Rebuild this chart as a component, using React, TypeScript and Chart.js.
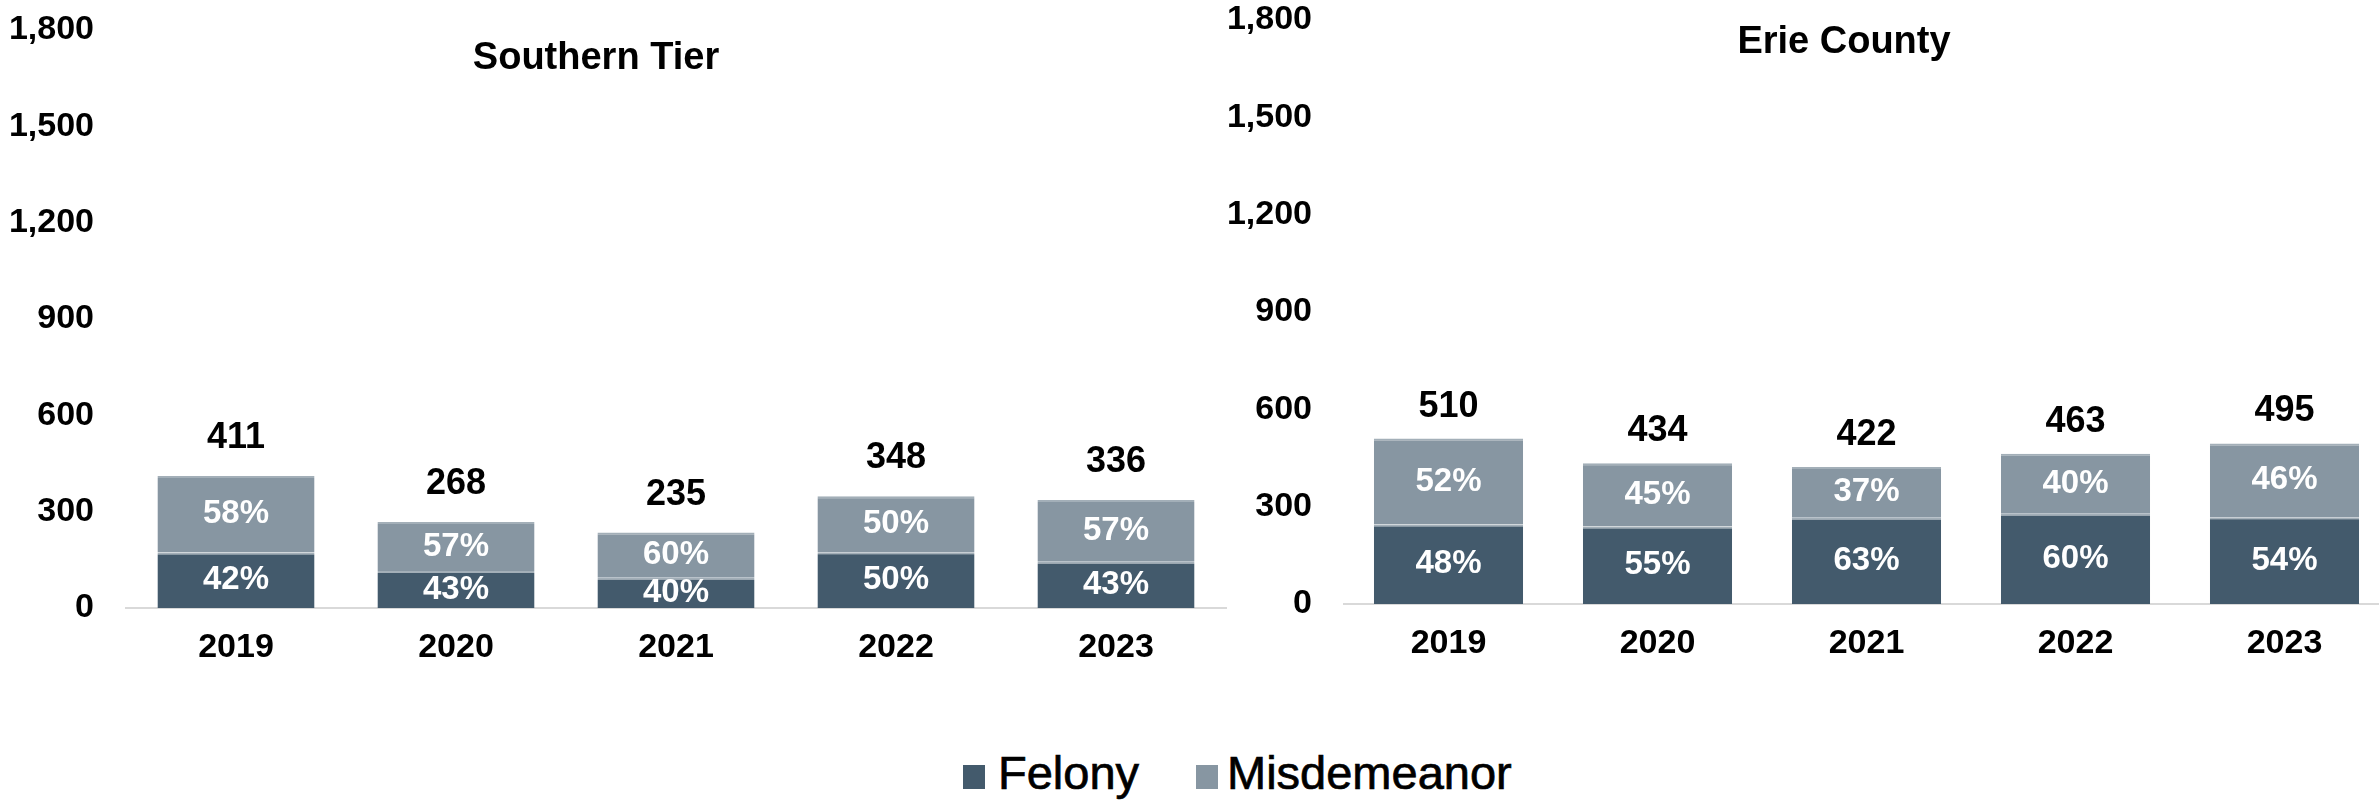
import React, { useEffect, useRef } from "react";
import { Chart, registerables } from "chart.js";

Chart.register(...registerables);

// Case counts by year, split by charge severity
const years = ["2019", "2020", "2021", "2022", "2023"];
const southernFelony = [173, 115, 94, 174, 144];
const southernMisdemeanor = [238, 153, 141, 174, 192];
const erieFelony = [245, 239, 266, 278, 267];
const erieMisdemeanor = [265, 195, 156, 185, 228];
const yTicks = [0, 300, 600, 900, 1200, 1500, 1800];

const FELONY_COLOR = "#435A6C";
const MISDEMEANOR_COLOR = "#8796A2";
const SEGMENT_EDGE = "#A3AFB8";
const FONT = "'Liberation Sans', Arial, Helvetica, sans-serif";

type PanelOpts = {
  title: string;
  titleX: number;
  titleY: number;
  totalGap: number;
};

// Draws the panel title, the share of each segment and the stack total
const panelLabels = {
  id: "panelLabels",
  afterDatasetsDraw(chart: any, _args: any, opts: PanelOpts) {
    const { ctx } = chart;
    const felonyMeta = chart.getDatasetMeta(0);
    const misdMeta = chart.getDatasetMeta(1);
    const felony = chart.data.datasets[0].data as number[];
    const misd = chart.data.datasets[1].data as number[];
    ctx.save();
    ctx.textAlign = "center";
    felonyMeta.data.forEach((felEl: any, i: number) => {
      const total = felony[i] + misd[i];
      const misEl = misdMeta.data[i];
      ctx.fillStyle = "#FFFFFF";
      ctx.font = `bold 33px ${FONT}`;
      ctx.textBaseline = "middle";
      const segs: [any, number][] = [
        [felEl, felony[i]],
        [misEl, misd[i]],
      ];
      segs.forEach(([el, v]) => {
        const { x, y, base } = el.getProps(["x", "y", "base"], true);
        ctx.fillText(Math.round((v / total) * 100) + "%", x, (y + base) / 2);
      });
      const { x, y } = misEl.getProps(["x", "y"], true);
      ctx.fillStyle = "#000000";
      ctx.font = `bold 36px ${FONT}`;
      ctx.textBaseline = "alphabetic";
      ctx.fillText(total.toLocaleString("en-US"), x, y - opts.totalGap);
    });
    ctx.fillStyle = "#000000";
    ctx.font = `bold 38px ${FONT}`;
    ctx.textBaseline = "alphabetic";
    ctx.fillText(opts.title, opts.titleX, opts.titleY);
    ctx.restore();
  },
};

function makeConfig(
  felony: number[],
  misd: number[],
  panel: PanelOpts,
  padTop: number,
  padBottom: number
): any {
  const tickFont = { family: FONT, size: 34, weight: "bold" as const };
  const segment = {
    borderColor: SEGMENT_EDGE,
    borderWidth: { top: 2, right: 0, bottom: 0, left: 0 },
    borderSkipped: false,
    barPercentage: 0.714,
    categoryPercentage: 1,
  };
  return {
    type: "bar",
    data: {
      labels: years,
      datasets: [
        { label: "Felony", data: felony, backgroundColor: FELONY_COLOR, ...segment },
        { label: "Misdemeanor", data: misd, backgroundColor: MISDEMEANOR_COLOR, ...segment },
      ],
    },
    options: {
      responsive: false,
      animation: false,
      devicePixelRatio: 1,
      layout: { padding: { top: padTop, bottom: padBottom, left: 0, right: 4 } },
      plugins: {
        legend: { display: false },
        tooltip: { enabled: false },
        title: { display: false },
        panelLabels: panel,
      },
      scales: {
        x: {
          stacked: true,
          grid: { display: false, drawTicks: false },
          border: { display: true, color: "#D9D9D9", width: 2 },
          ticks: { color: "#000000", font: tickFont, padding: 19, maxRotation: 0 },
          afterFit: (s: any) => {
            s.height = 60;
            s.paddingLeft = 0;
            s.paddingRight = 0;
          },
        },
        y: {
          stacked: true,
          min: 0,
          max: 1800,
          grid: { display: false, drawTicks: false },
          border: { display: false },
          ticks: {
            color: "#000000",
            font: tickFont,
            padding: 32,
            callback: (v: any) => Number(v).toLocaleString("en-US"),
          },
          afterBuildTicks: (s: any) => {
            s.ticks = yTicks.map((v) => ({ value: v }));
          },
          afterFit: (s: any) => {
            s.width = 126;
            s.paddingTop = 0;
            s.paddingBottom = 0;
          },
        },
      },
    },
    plugins: [panelLabels],
  };
}

function Panel(props: {
  felony: number[];
  misd: number[];
  panel: PanelOpts;
  left: number;
  width: number;
  padTop: number;
  padBottom: number;
}) {
  const ref = useRef<HTMLCanvasElement | null>(null);
  useEffect(() => {
    if (!ref.current) return;
    const chart = new Chart(
      ref.current,
      makeConfig(props.felony, props.misd, props.panel, props.padTop, props.padBottom)
    );
    return () => chart.destroy();
  }, []);
  return (
    <canvas
      ref={ref}
      width={props.width}
      height={700}
      style={{
        position: "absolute",
        left: props.left,
        top: 0,
        width: props.width,
        height: 700,
      }}
    />
  );
}

const legendText: React.CSSProperties = {
  position: "absolute",
  top: 749,
  fontFamily: FONT,
  fontSize: 47,
  lineHeight: "47px",
  color: "#000000",
  whiteSpace: "nowrap",
  WebkitTextStroke: "0.7px #000000",
};

export default function App() {
  return (
    <div
      style={{
        position: "fixed",
        left: 0,
        top: 0,
        width: 2379,
        height: 800,
        overflow: "hidden",
        background: "#FFFFFF",
      }}
    >
      <Panel
        felony={southernFelony}
        misd={southernMisdemeanor}
        panel={{ title: "Southern Tier", titleX: 596, titleY: 69, totalGap: 28 }}
        left={0}
        width={1230}
        padTop={30}
        padBottom={32}
      />
      <Panel
        felony={erieFelony}
        misd={erieMisdemeanor}
        panel={{ title: "Erie County", titleX: 626, titleY: 53, totalGap: 22 }}
        left={1218}
        width={1175}
        padTop={20}
        padBottom={36}
      />
      <div
        style={{
          position: "absolute",
          left: 963,
          top: 765,
          width: 22,
          height: 24,
          background: FELONY_COLOR,
        }}
      />
      <span style={{ ...legendText, left: 998 }}>Felony</span>
      <div
        style={{
          position: "absolute",
          left: 1196,
          top: 765,
          width: 22,
          height: 24,
          background: MISDEMEANOR_COLOR,
        }}
      />
      <span style={{ ...legendText, left: 1227 }}>Misdemeanor</span>
    </div>
  );
}
